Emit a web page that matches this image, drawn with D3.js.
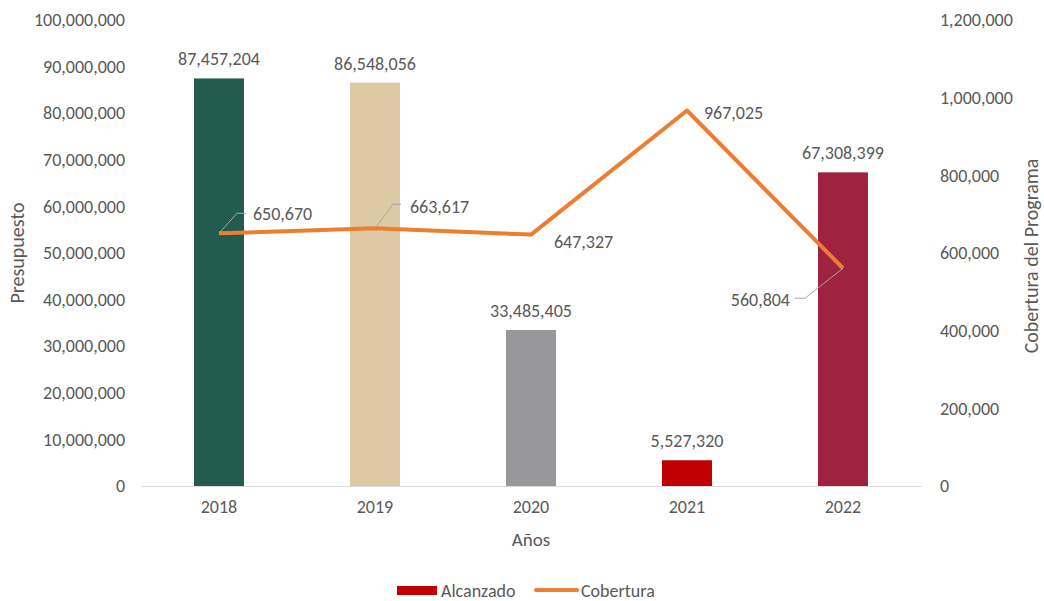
<!DOCTYPE html>
<html>
<head>
<meta charset="utf-8">
<script src="https://cdn.jsdelivr.net/npm/d3@7"></script>
<style>
  body { margin: 0; background: #fff; }
  text { font-family: Carlito, Calibri, "Open Sans", sans-serif; fill: #595959; }
</style>
</head>
<body>
<div id="chart"></div>
<script>
// data
const years = ["2018", "2019", "2020", "2021", "2022"];
const alcanzado = [87457204, 86548056, 33485405, 5527320, 67308399];
const cobertura = [650670, 663617, 647327, 967025, 560804];
const barColors = ["#235B4E", "#DDC9A3", "#98989A", "#C00000", "#9F2241"];
const leftTicks = d3.range(0, 100000001, 10000000);
const rightTicks = d3.range(0, 1200001, 200000);

const W = 1044, H = 601;
const margin = { top: 20, right: 123, bottom: 115, left: 141 },
    width = W - margin.left - margin.right,
    height = H - margin.top - margin.bottom;

const fs = 18;

const svg = d3.select("#chart").append("svg")
    .attr("width", W).attr("height", H);
const g = svg.append("g")
    .attr("transform", `translate(${margin.left},${margin.top})`);

const fmt = d3.format(",");

const x = d3.scaleBand().domain(years).range([0, width]);
const y = d3.scaleLinear().domain([0, 100000000]).range([height, 0]);
const y2 = d3.scaleLinear().domain([0, 1200000]).range([height, 0]);

// left axis
const yAxis = g.append("g")
    .call(d3.axisLeft(y).tickValues(leftTicks).tickFormat(fmt).tickSize(0).tickPadding(16));
yAxis.select(".domain").remove();
yAxis.selectAll("text").attr("font-size", fs).attr("fill", "#595959")
    .style("font-family", "Carlito, Calibri, 'Open Sans', sans-serif");

// right axis
const y2Axis = g.append("g")
    .attr("transform", `translate(${width},0)`)
    .call(d3.axisRight(y2).tickValues(rightTicks).tickFormat(fmt).tickSize(0).tickPadding(19));
y2Axis.select(".domain").remove();
y2Axis.selectAll("text").attr("font-size", fs).attr("fill", "#595959")
    .style("font-family", "Carlito, Calibri, 'Open Sans', sans-serif");

// bars
const barW = 50;
g.selectAll(".bar")
    .data(alcanzado)
    .join("rect")
    .attr("x", (d, i) => x(years[i]) + x.bandwidth() / 2 - barW / 2)
    .attr("y", d => y(d))
    .attr("width", barW)
    .attr("height", d => height - y(d))
    .attr("fill", (d, i) => barColors[i]);

// x axis
const xAxis = g.append("g")
    .attr("transform", `translate(0,${height})`)
    .call(d3.axisBottom(x).tickSize(0).tickPadding(14));
xAxis.select(".domain").attr("stroke", "#d9d9d9").attr("stroke-width", 1);
xAxis.selectAll("text").attr("font-size", fs).attr("fill", "#595959")
    .style("font-family", "Carlito, Calibri, 'Open Sans', sans-serif");

// bar labels
g.selectAll(".blabel")
    .data(alcanzado)
    .join("text")
    .attr("x", (d, i) => x(years[i]) + x.bandwidth() / 2)
    .attr("y", d => y(d) - 13)
    .attr("text-anchor", "middle")
    .attr("font-size", fs)
    .text(d => fmt(d));

// line
const line = d3.line()
    .x((d, i) => x(years[i]) + x.bandwidth() / 2)
    .y(d => y2(d));
g.append("path")
    .datum(cobertura)
    .attr("fill", "none")
    .attr("stroke", "#ED7D31")
    .attr("stroke-width", 4)
    .attr("stroke-linejoin", "round")
    .attr("d", line);

// line labels with leader lines (offsets relative to the point)
const lblOff = [
    { dx: 34, dy: -20, anchor: "start", leader: [[0, 0], [18, -20], [27, -20]] },
    { dx: 35, dy: -22, anchor: "start", leader: [[1, -1], [18, -24], [26, -24]] },
    { dx: 23, dy: 7, anchor: "start", leader: null },
    { dx: 17, dy: 2, anchor: "start", leader: null },
    { dx: -53, dy: 31, anchor: "end", leader: [[0, 0], [-38, 30], [-48, 30]] }
];
cobertura.forEach((d, i) => {
    const px = x(years[i]) + x.bandwidth() / 2, py = y2(d);
    const o = lblOff[i];
    if (o.leader) {
        g.append("polyline")
            .attr("points", o.leader.map(p => [px + p[0], py + p[1]].join(",")).join(" "))
            .attr("fill", "none")
            .attr("stroke", "#a6a6a6")
            .attr("stroke-width", 1);
    }
    g.append("text")
        .attr("x", px + o.dx)
        .attr("y", py + o.dy)
        .attr("dy", "0.35em")
        .attr("text-anchor", o.anchor)
        .attr("font-size", fs)
        .text(fmt(d));
});

// axis titles
svg.append("text")
    .attr("transform", `translate(24,${margin.top + height / 2}) rotate(-90)`)
    .attr("text-anchor", "middle")
    .attr("font-size", fs + 2)
    .text("Presupuesto");

svg.append("text")
    .attr("transform", `translate(1038,${margin.top + height / 2 + 3}) rotate(-90)`)
    .attr("text-anchor", "middle")
    .attr("font-size", fs + 2)
    .text("Cobertura del Programa");

svg.append("text")
    .attr("x", margin.left + width / 2)
    .attr("y", 546)
    .attr("text-anchor", "middle")
    .attr("font-size", fs + 1)
    .text("Años");

// legend
const lg = svg.append("g");
lg.append("rect").attr("x", 397).attr("y", 586).attr("width", 40).attr("height", 9).attr("fill", "#C00000");
lg.append("text").attr("x", 441).attr("y", 591).attr("dy", "0.35em").attr("font-size", fs).text("Alcanzado");
lg.append("line").attr("x1", 536).attr("x2", 577).attr("y1", 590).attr("y2", 590)
    .attr("stroke", "#ED7D31").attr("stroke-width", 4).attr("stroke-linecap", "round");
lg.append("text").attr("x", 581).attr("y", 591).attr("dy", "0.35em").attr("font-size", fs).text("Cobertura");
</script>
</body>
</html>
